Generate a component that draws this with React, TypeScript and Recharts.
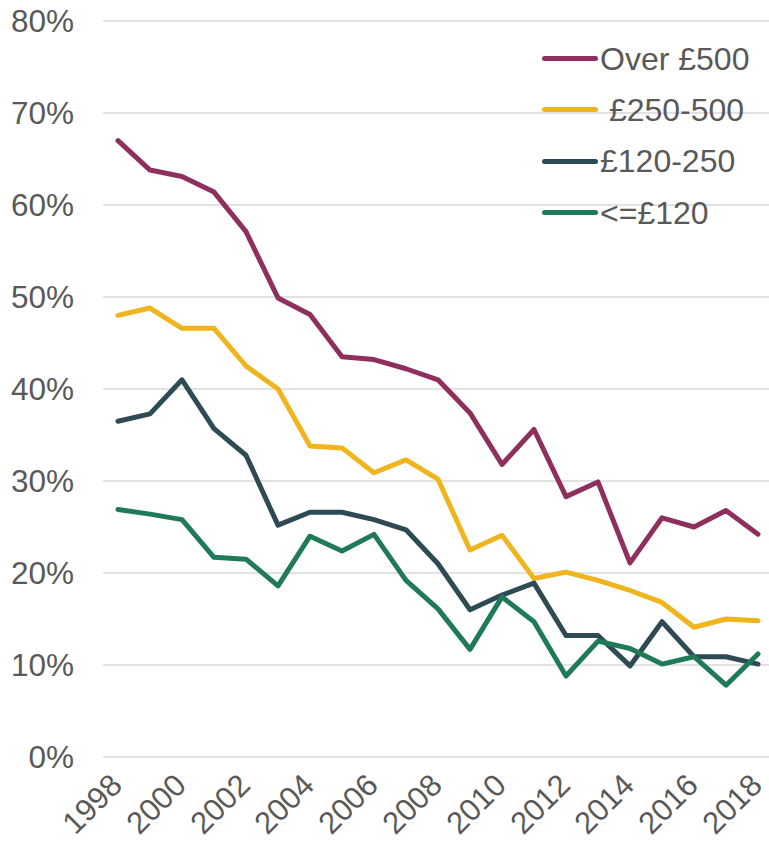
import { LineChart, Line, XAxis, YAxis, CartesianGrid } from "recharts";

const years = [
  "1998", "1999", "2000", "2001", "2002", "2003", "2004", "2005", "2006", "2007", "2008",
  "2009", "2010", "2011", "2012", "2013", "2014", "2015", "2016", "2017", "2018",
];

// share of households, %
const over500 = [67.0, 63.8, 63.1, 61.4, 57.1, 49.9, 48.1, 43.5, 43.2, 42.2, 41.0, 37.4, 31.8, 35.6, 28.3, 29.9, 21.1, 26.0, 25.0, 26.8, 24.2];
const from250 = [48.0, 48.8, 46.6, 46.6, 42.5, 40.0, 33.8, 33.6, 30.9, 32.3, 30.2, 22.5, 24.1, 19.4, 20.1, 19.2, 18.1, 16.8, 14.1, 15.0, 14.8];
const from120 = [36.5, 37.3, 41.0, 35.7, 32.8, 25.2, 26.6, 26.6, 25.8, 24.7, 21.0, 16.0, 17.6, 18.9, 13.2, 13.2, 9.9, 14.7, 10.9, 10.9, 10.1];
const upTo120 = [26.9, 26.4, 25.8, 21.7, 21.5, 18.6, 24.0, 22.4, 24.2, 19.2, 16.1, 11.7, 17.4, 14.7, 8.8, 12.6, 11.8, 10.1, 10.9, 7.8, 11.2];

const yTicks = [0, 10, 20, 30, 40, 50, 60, 70, 80];

const series = [
  { key: "over500", label: "Over £500", color: "#8E2F5E" },
  { key: "from250", label: " £250-500", color: "#F0B41C" },
  { key: "from120", label: "£120-250", color: "#2E4A55" },
  { key: "upTo120", label: "<=£120", color: "#1F7A57" },
];

const data = years.map((y, i) => ({
  year: y,
  over500: over500[i],
  from250: from250[i],
  from120: from120[i],
  upTo120: upTo120[i],
}));

const FONT = "'Liberation Sans', Arial, sans-serif";
const TEXT = "#595959";

const YearTick = ({ x, y, payload }: any) => {
  const tx = x + 6;
  const ty = y + 28;
  return (
    <text x={tx} y={ty} transform={`rotate(-45 ${tx} ${ty})`} textAnchor="end" fill={TEXT} fontSize={31} fontFamily={FONT}>
      {payload.value}
    </text>
  );
};

export default function App() {
  return (
    <div style={{ position: "absolute", left: 0, top: 0, width: 769, height: 845, background: "#fff" }}>
      <LineChart width={769} height={845} data={data} margin={{ top: 21, right: 0, bottom: 0, left: 0 }}>
        <CartesianGrid vertical={false} stroke="#D9D9D9" strokeWidth={1.5} />
        <XAxis
          dataKey="year"
          interval={1}
          height={88}
          axisLine={false}
          tickLine={false}
          tickSize={0}
          padding={{ left: 15, right: 11 }}
          tick={<YearTick />}
        />
        <YAxis
          domain={[0, 80]}
          ticks={yTicks}
          width={103}
          axisLine={false}
          tickLine={false}
          tickSize={0}
          tickMargin={29}
          tickFormatter={(v: number) => `${v}%`}
          tick={{ fill: TEXT, fontSize: 31.5, fontFamily: FONT }}
        />
        {series.map((s) => (
          <Line
            key={s.key}
            type="linear"
            dataKey={s.key}
            stroke={s.color}
            strokeWidth={5}
            strokeLinejoin="round"
            strokeLinecap="round"
            dot={false}
            isAnimationActive={false}
          />
        ))}
      </LineChart>
      <div style={{ position: "absolute", left: 542, top: 33, fontFamily: FONT, fontSize: 32, color: TEXT }}>
        {series.map((s) => (
          <div key={s.key} style={{ display: "flex", alignItems: "center", height: 51.3 }}>
            <div style={{ width: 56, height: 5, borderRadius: 3, background: s.color, marginRight: 2 }} />
            <span style={{ whiteSpace: "pre", lineHeight: 1 }}>{s.label}</span>
          </div>
        ))}
      </div>
    </div>
  );
}
